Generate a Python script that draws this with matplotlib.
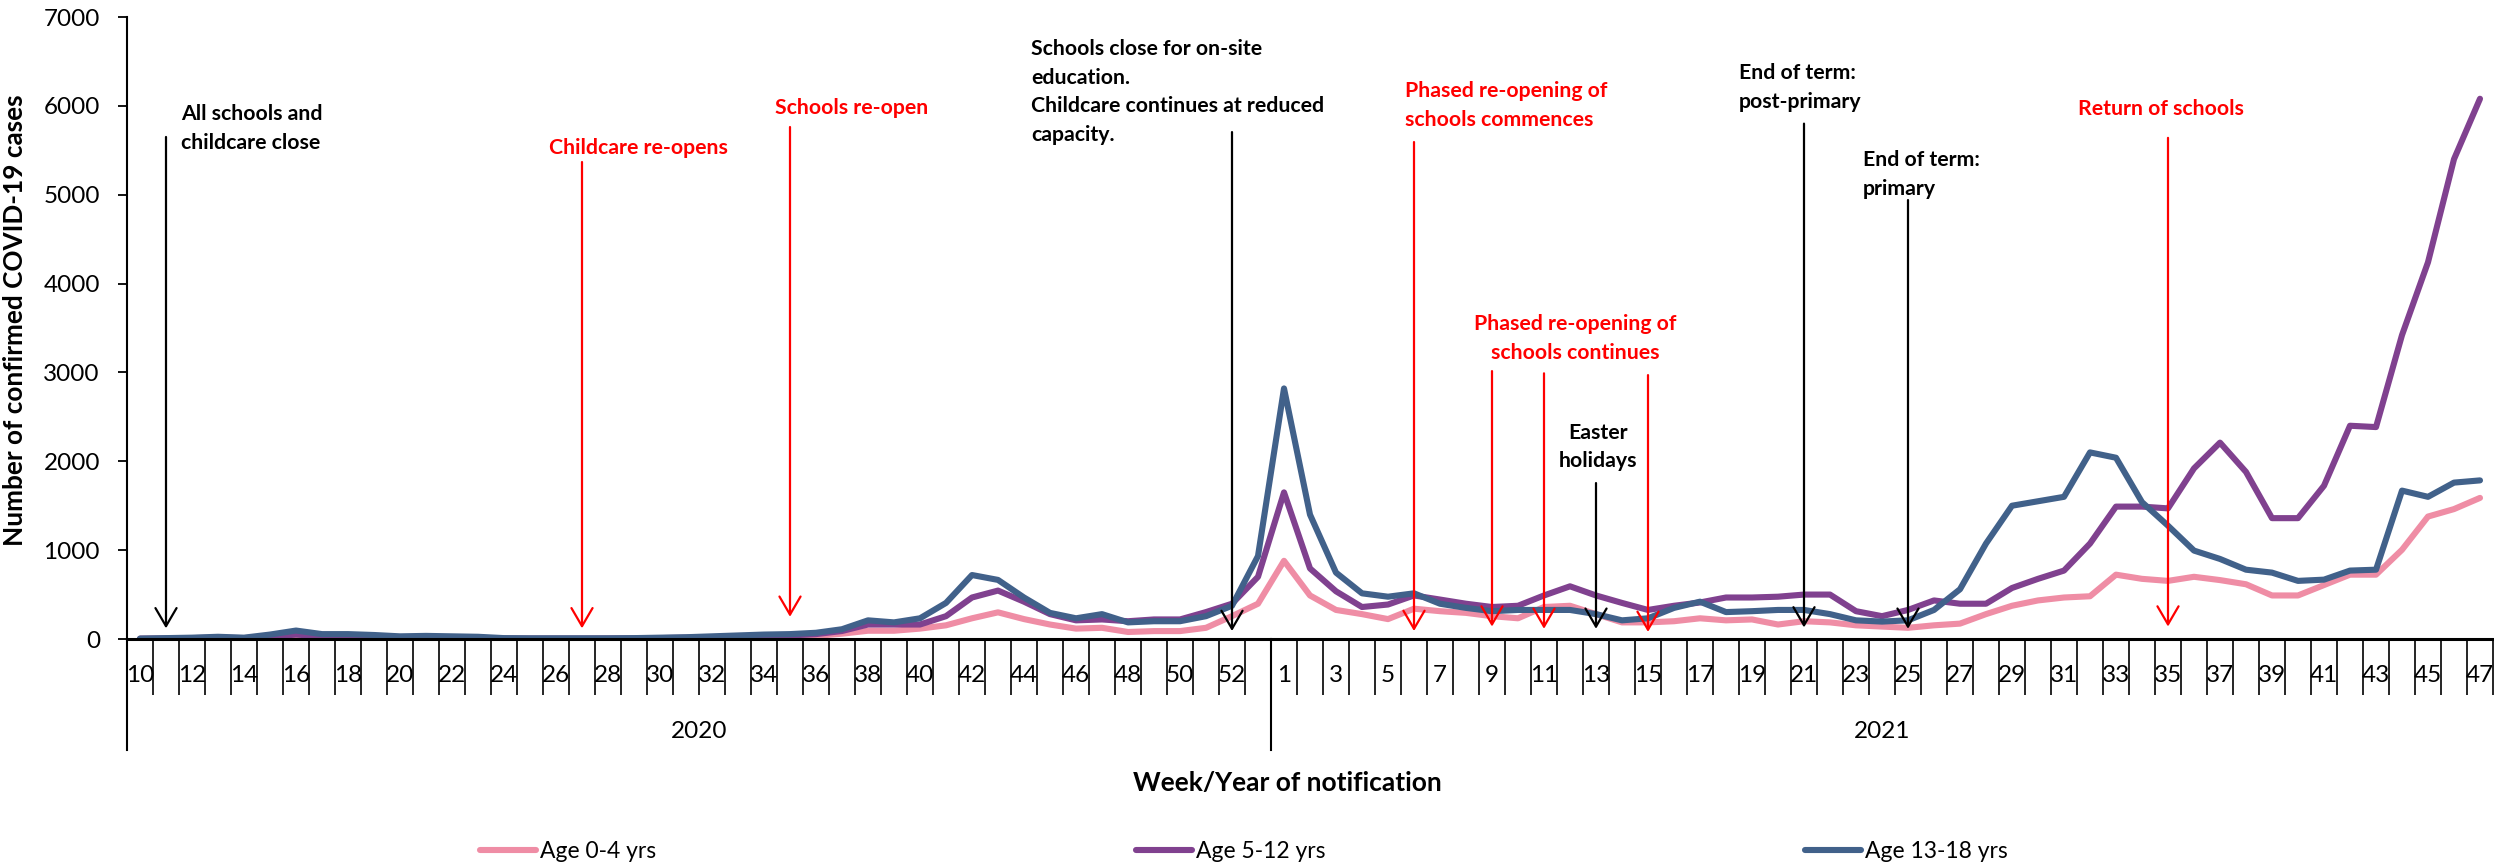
import matplotlib
matplotlib.use("Agg")
import matplotlib.pyplot as plt
import numpy as np

plt.rcParams['font.family'] = ['Lato', 'DejaVu Sans']

# categories: ISO weeks 2020 (10-53) and 2021 (1-47)
weeks_2020 = list(range(10, 54))
weeks_2021 = list(range(1, 48))

# weekly confirmed cases
age_0_4_2020 = [2, 3, 5, 8, 5, 15, 35, 15, 15, 12, 8, 10, 8, 6, 3, 2, 2, 2, 3, 4, 6, 10, 12, 18, 22, 25, 35, 60,
                93, 93, 117, 154, 233, 300, 224, 163, 117, 126, 79, 89, 89, 126, 257, 397]
age_0_4_2021 = [880, 490, 327, 280, 224, 341, 313, 294, 257, 233, 360, 374, 280, 187, 187, 200, 233, 210, 220, 163,
                200, 187, 154, 140, 126, 154, 173, 280, 374, 434, 467, 481, 724, 677, 654, 700, 663, 616, 490, 490,
                607, 724, 724, 1004, 1378, 1462, 1588]

age_5_12_2020 = [3, 5, 10, 15, 10, 25, 50, 30, 30, 25, 15, 20, 15, 12, 5, 4, 4, 4, 5, 6, 10, 15, 20, 30, 35, 40, 55, 90,
                 163, 163, 163, 257, 467, 545, 420, 280, 210, 220, 200, 220, 220, 303, 397, 700]
age_5_12_2021 = [1650, 794, 537, 360, 388, 490, 444, 397, 360, 374, 490, 593, 490, 406, 327, 374, 411, 467, 467, 476,
                 500, 500, 313, 257, 327, 434, 397, 397, 574, 677, 770, 1074, 1490, 1490, 1470, 1920, 2210, 1880, 1360,
                 1360, 1725, 2400, 2385, 3420, 4240, 5400, 6080]

age_13_18_2020 = [5, 10, 15, 25, 15, 50, 95, 55, 55, 45, 30, 35, 30, 25, 10, 8, 8, 8, 8, 10, 15, 20, 30, 40, 50, 55, 70, 110,
                  210, 187, 233, 406, 720, 665, 467, 294, 233, 280, 187, 200, 200, 257, 374, 934]
age_13_18_2021 = [2820, 1400, 747, 514, 476, 514, 397, 350, 313, 327, 327, 327, 280, 210, 233, 350, 420, 303, 313, 327,
                  327, 280, 210, 196, 210, 327, 560, 1074, 1500, 1550, 1600, 2100, 2040, 1540, 1275, 995, 901, 780, 747,
                  654, 668, 770, 780, 1670, 1600, 1760, 1785]

series_names = ['Age 0-4 yrs', 'Age 5-12 yrs', 'Age 13-18 yrs']
series_colors = ['#EF8DA5', '#80418F', '#41618A']
series_values = [age_0_4_2020 + age_0_4_2021,
                 age_5_12_2020 + age_5_12_2021,
                 age_13_18_2020 + age_13_18_2021]

week_labels = [str(w) for w in weeks_2020 + weeks_2021]
n = len(week_labels)
x = np.arange(n)

# event arrows: (week index, arrow top, arrow tip, colour)
events = [
    (1, 5650, 120, 'black'),
    (17, 5368, 120, 'red'),
    (25, 5762, 250, 'red'),
    (42, 5705, 90, 'black'),
    (49, 5593, 90, 'red'),
    (52, 3015, 140, 'red'),
    (54, 2990, 115, 'red'),
    (58, 2970, 80, 'red'),
    (56, 1755, 115, 'black'),
    (64, 5800, 130, 'black'),
    (68, 4940, 115, 'black'),
    (78, 5640, 140, 'red'),
]
event_texts = [
    (1.58, 5745, 'All schools and\nchildcare close', 'black', 'left'),
    (15.73, 5525, 'Childcare re-opens', 'red', 'left'),
    (24.42, 5976, 'Schools re-open', 'red', 'left'),
    (34.27, 6156, 'Schools close for on-site\neducation.\nChildcare continues at reduced\ncapacity.', 'black', 'left'),
    (48.65, 6004, 'Phased re-opening of\nschools commences', 'red', 'left'),
    (55.19, 3382, 'Phased re-opening of\nschools continues', 'red', 'center'),
    (56.08, 2161, 'Easter\nholidays', 'black', 'center'),
    (61.5, 6206, 'End of term:\npost-primary', 'black', 'left'),
    (66.27, 5227, 'End of term:\nprimary', 'black', 'left'),
    (74.54, 5964, 'Return of schools', 'red', 'left'),
]

W, H = 2494, 868
fig = plt.figure(figsize=(W / 100, H / 100), dpi=100)
ax = fig.add_axes([127 / W, 229 / H, (2493 - 127) / W, 622 / H])

handles = []
for vals, name, col in zip(series_values, series_names, series_colors):
    h, = ax.plot(x, vals, color=col, lw=4.4, solid_joinstyle='round', solid_capstyle='round', label=name)
    handles.append(h)

ax.set_xlim(-0.5, n - 0.5)
ax.set_ylim(0, 7000)

for s in ['top', 'right', 'left']:
    ax.spines[s].set_visible(False)
ax.spines['bottom'].set_linewidth(2.2)

ax.set_yticks(range(0, 7001, 1000))
ax.tick_params(axis='y', length=6.5, width=1.3, pad=13, labelsize=17.5)

ax.set_xticks(x[::2])
ax.set_xticklabels(week_labels[::2])
ax.set_xticks(np.arange(-0.5, n, 1), minor=True)
ax.tick_params(axis='x', which='major', length=0, pad=19, labelsize=17.5)
ax.tick_params(axis='x', which='minor', length=40, width=1.2)

# axis line and year separators running down through the labels
tr = ax.get_xaxis_transform()
ax.plot([-0.5, -0.5], [1, -0.1785], transform=tr, color='black', lw=1.5, clip_on=False)
ax.plot([43.5, 43.5], [0, -0.1785], transform=tr, color='black', lw=1.5, clip_on=False)
ax.text(21.5, -0.1495, '2020', transform=tr, ha='center', va='center', fontsize=17.5)
ax.text(67.0, -0.1495, '2021', transform=tr, ha='center', va='center', fontsize=17.5)

for xi, top, tip, col in events:
    ax.annotate('', xy=(xi, tip), xytext=(xi, top),
                arrowprops=dict(arrowstyle='->,head_length=0.65,head_width=0.38', color=col,
                                lw=1.6, shrinkA=0, shrinkB=0, mutation_scale=20))

for tx, ty, txt, col, ha in event_texts:
    ax.text(tx, ty, txt, color=col, fontsize=15.3, fontweight='bold', ha=ha, va='center',
            linespacing=1.55, multialignment='center' if ha == 'center' else 'left')

fig.text(15 / W, 1 - 320 / H, 'Number of confirmed COVID-19 cases', rotation=90,
         ha='center', va='center', fontsize=18.8, fontweight='bold')
fig.text(1287 / W, 1 - 783 / H, 'Week/Year of notification',
         ha='center', va='center', fontsize=19, fontweight='bold')

fig.legend(handles, series_names, loc='center', bbox_to_anchor=(1244 / W, 1 - 852 / H), ncol=3,
           frameon=False, fontsize=16.5, handlelength=2.45, handletextpad=0.2, columnspacing=20.9,
           borderpad=0)

fig.savefig('out.png', dpi=100)
